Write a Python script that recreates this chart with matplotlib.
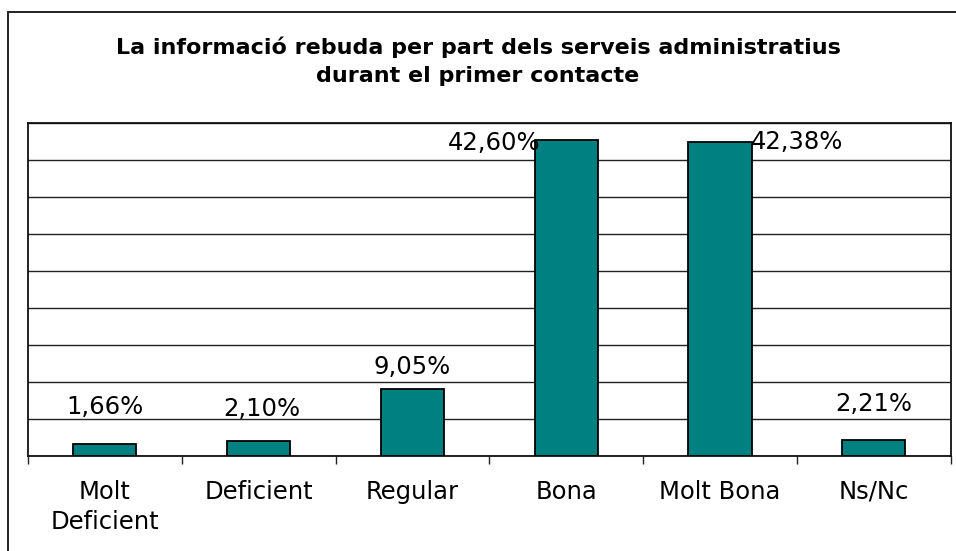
import matplotlib.pyplot as plt
from matplotlib.patches import Rectangle

# data
categories = ['Molt\nDeficient', 'Deficient', 'Regular', 'Bona', 'Molt Bona', 'Ns/Nc']
values = [1.66, 2.10, 9.05, 42.60, 42.38, 2.21]
labels = ['1,66%', '2,10%', '9,05%', '42,60%', '42,38%', '2,21%']
# where each value label sits relative to its bar top (pixels)
label_dx = [0, 3, 0, -72, 77, 0]
label_dy = [37, 32, 22, -3, 0, 36]

title = 'La informació rebuda per part dels serveis administratius\ndurant el primer contacte'

plt.rcParams['font.family'] = ['DejaVu Sans']

fig = plt.figure(figsize=(9.56, 5.51), dpi=100)
ax = fig.add_axes([28 / 956, 1 - 456.3 / 551, (950.7 - 28) / 956, (456.3 - 122.7) / 551])

x = list(range(len(values)))
bars = ax.bar(x, values, width=0.41, color='#008080', edgecolor='black',
              linewidth=1.3, zorder=3)

for b, v, lab, dx, dy in zip(bars, values, labels, label_dx, label_dy):
    ax.annotate(lab, (b.get_x() + b.get_width() / 2, v),
                xytext=(dx, dy), textcoords='offset pixels',
                ha='center', va='center', fontsize=17.5, zorder=5)

ax.set_xlim(-0.5, len(values) - 0.5)
ax.set_ylim(0, 45)

# gridlines every 5%, no y labels
ax.set_yticks(range(0, 46, 5))
ax.yaxis.grid(True, color='#222222', linewidth=1.0, zorder=0)
ax.tick_params(axis='y', length=0, labelleft=False)

# category ticks sit between the bars, labels centred under them
ax.set_xticks([i - 0.5 for i in range(len(values) + 1)])
ax.set_xticklabels([])
ax.tick_params(axis='x', which='major', direction='out', length=6, width=1.0, color='#222222')
ax.set_xticks(x, minor=True)
ax.set_xticklabels(categories, minor=True, fontsize=17.5, linespacing=1.3)
ax.tick_params(axis='x', which='minor', length=0, pad=17)

for s in ax.spines.values():
    s.set_color('#111111')
    s.set_linewidth(1.3)

fig.text(478 / 956, 1 - 61 / 551, title, ha='center', va='center',
         fontsize=16, fontweight='bold', linespacing=1.5)

# outer chart border
fig.patches.append(Rectangle((8 / 956, -0.02), 1.0, 1 - 12 / 551 + 0.02,
                             transform=fig.transFigure, fill=False,
                             edgecolor='#222222', linewidth=1.4))

fig.savefig('out.png', dpi=100)
